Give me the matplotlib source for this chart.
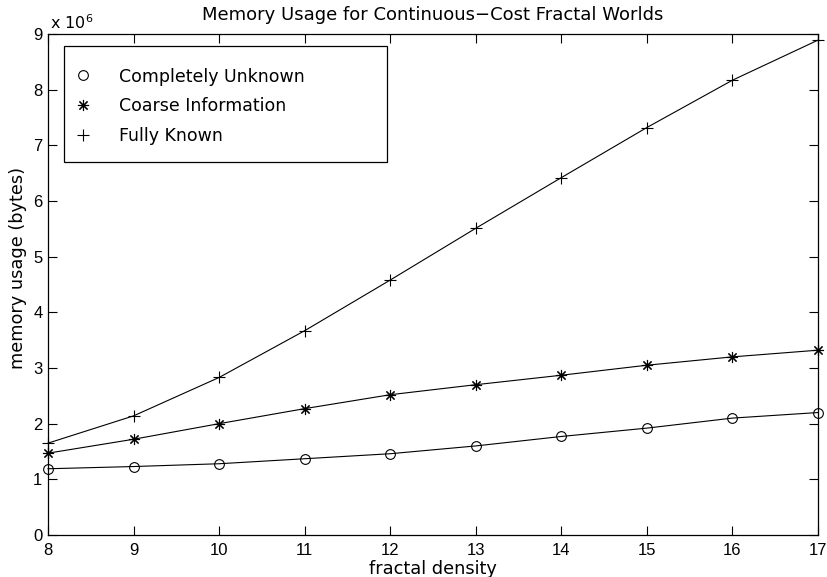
import matplotlib
matplotlib.use("Agg")
import matplotlib.pyplot as plt
from matplotlib.patches import Rectangle

plt.rcParams['font.family'] = ['DejaVu Sans']

density = [8, 9, 10, 11, 12, 13, 14, 15, 16, 17]
completely_unknown = [1.19, 1.23, 1.28, 1.37, 1.46, 1.60, 1.77, 1.92, 2.10, 2.20]
coarse_information = [1.47, 1.72, 2.00, 2.27, 2.52, 2.70, 2.87, 3.05, 3.20, 3.32]
fully_known = [1.65, 2.14, 2.83, 3.67, 4.58, 5.51, 6.42, 7.32, 8.17, 8.89]
scale = 1e6
labels = ['Completely Unknown', 'Coarse Information', 'Fully Known']
xticks = list(range(8, 18))
yticks = list(range(0, 10))

W, H = 827, 577
fig = plt.figure(figsize=(W / 100, H / 100), dpi=100)
ax = fig.add_axes([48 / W, 1 - 535 / H, 770 / W, 501 / H])

series = [completely_unknown, coarse_information, fully_known]
markers = ['o', (8, 2, 0), '+']
msizes = [7, 8, 8]
handles = []
for s, m, ms, lab in zip(series, markers, msizes, labels):
    ax.plot(density, [v * scale for v in s], color='black', lw=0.8,
            marker=m, markersize=ms, markerfacecolor='none',
            markeredgecolor='black', markeredgewidth=0.8, clip_on=False)
    h, = ax.plot([], [], linestyle='none', marker=m, markersize=ms,
                 markerfacecolor='none', markeredgecolor='black',
                 markeredgewidth=0.8, label=lab)
    handles.append(h)

ax.set_xlim(8, 17)
ax.set_ylim(0, 9e6)
ax.set_xticks(xticks)
ax.set_xticklabels([str(t) for t in xticks], family='Liberation Sans')
ax.set_yticks([t * scale for t in yticks])
ax.set_yticklabels([str(t) for t in yticks], family='Liberation Sans')
ax.tick_params(direction='in', top=True, right=True, length=6.5, width=0.8,
               labelsize=12, colors='black')
ax.tick_params(axis='x', pad=6)
ax.tick_params(axis='y', pad=4)
for sp in ax.spines.values():
    sp.set_linewidth(0.9)
    sp.set_color('black')

ax.text(0.003, 1.004, r'x 10$^{6}$', transform=ax.transAxes, fontsize=11.5,
        ha='left', va='bottom')
ax.set_title('Memory Usage for Continuous\u2212Cost Fractal Worlds',
             fontsize=13, pad=10)
ax.set_xlabel('fractal density', fontsize=12.8, labelpad=1)
ax.set_ylabel('memory usage (bytes)', fontsize=12.8)
ax.yaxis.set_label_coords((27 - 48) / 770, (535 - 268) / 501)

# legend frame drawn separately
x0 = (64 - 48) / 770
y0 = (535 - 162) / 501
ax.add_patch(Rectangle((x0, y0), (387 - 64) / 770, (162 - 46) / 501,
                       transform=ax.transAxes, fill=True, facecolor='white',
                       edgecolor='black', linewidth=0.9, zorder=5))
leg = ax.legend(handles=handles, loc='upper left',
                bbox_to_anchor=((75 - 48) / 770, (535 - 67.5) / 501),
                fontsize=12.5, frameon=False, borderpad=0,
                labelspacing=0.68, handlelength=0.9, handletextpad=1.63,
                borderaxespad=0)
leg.set_zorder(6)

fig.savefig('out.png', dpi=100)
